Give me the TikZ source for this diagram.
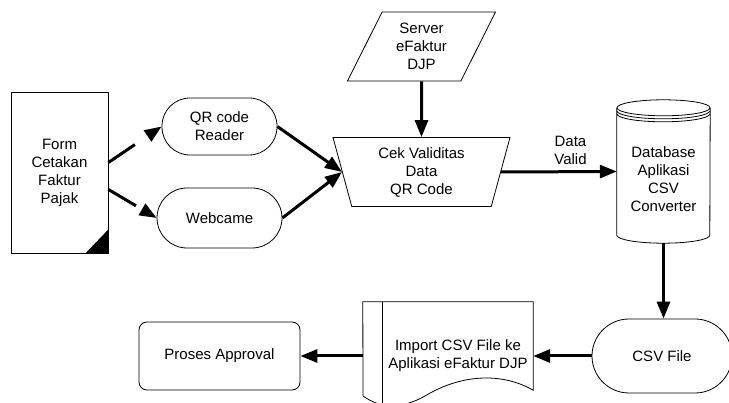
\documentclass[tikz,border=0pt]{standalone}
\usepackage{fontspec}
\setmainfont{Liberation Sans}
\usetikzlibrary{shapes.geometric}
\usetikzlibrary{arrows.meta}
\tikzset{every node/.style={font=\fontsize{15}{18}\selectfont, align=center}}
\tikzset{box/.style={draw, line width=0.8pt}}
\tikzset{flow/.style={line width=3pt, -{Triangle[length=17pt,width=13pt]}}}
\tikzset{dashflow/.style={flow, dash pattern=on 32pt off 20pt}}

\begin{document}
\begin{tikzpicture}[x=1pt,y=1pt]
\useasboundingbox (0,0) rectangle (729,-403);
% create the nodes
\node[box, minimum width=97pt, minimum height=161pt] (form) at (59.5,-172.5) {Form\\Cetakan\\Faktur\\Pajak};
\fill (form.south east) -- ([xshift=-23pt]form.south east) -- ([yshift=24pt]form.south east) -- cycle;
\node[box, rounded corners=28pt, minimum width=115pt, minimum height=57pt] (qr) at (219.5,-126.5) {QR code\\Reader};
\node[box, rounded corners=30pt, minimum width=125pt, minimum height=60pt] (web) at (219.5,-218) {Webcame};
\node[box, trapezium, trapezium angle=71.6, trapezium stretches body, shape border rotate=180,
      minimum width=177pt, minimum height=69pt] (cek) at (421.5,-172) {Cek Validitas\\Data\\QR Code};
\node[box, trapezium, trapezium left angle=57, trapezium right angle=123, trapezium stretches body,
      minimum width=148pt, minimum height=69pt] (srv) at (421.5,-46.5) {Server\\eFaktur\\DJP};
% database cylinder, drawn round an empty node
\node[minimum width=93pt, minimum height=127pt, inner sep=0pt] (db) at (663.5,-171.5) {};
\draw[line width=0.8pt] (db.north west) -- (db.south west)
  arc[start angle=180, end angle=360, x radius=46.5pt, y radius=8pt] -- (db.north east);
\draw[line width=0.8pt] (db.north) ellipse[x radius=46.5pt, y radius=8pt];
\foreach \d in {3,6}
  \draw[line width=0.8pt] ([yshift=-\d pt]db.north west) arc[start angle=180, end angle=360, x radius=46.5pt, y radius=8pt];
\node (dbtext) at ([yshift=-8pt]db.center) {Database\\Aplikasi\\CSV\\Converter};
\node[box, rounded corners=37pt, minimum width=140pt, minimum height=74pt] (csv) at (662,-356) {CSV File};
% document with a strip on the left
\node[minimum width=150pt, minimum height=108pt, inner sep=0pt] (imp) at (458,-356) {Import CSV File ke\\Aplikasi eFaktur DJP};
\draw[line width=0.8pt] ([xshift=-20pt]imp.north west) -- (imp.north east) -- ([yshift=20pt]imp.south east)
  .. controls (505,-374) and (465,-372) .. (425,-396)
  .. controls (400,-410) and (380,-408) .. (363,-396) -- cycle;
\draw[line width=0.8pt] (imp.north west) -- (imp.south west);
\node[box, rounded corners=8pt, minimum width=161pt, minimum height=68pt] (app) at (219.5,-356) {Proses Approval};
% connectors
\draw[dashflow] ([yshift=10pt]form.east) -- (qr.west);
\draw[dashflow] ([yshift=-17pt]form.east) -- (web.west);
\draw[flow] (qr.east) -- (cek.west);
\draw[flow] (web.east) -- (cek.west);
\draw[flow] (srv.south) -- (cek.north);
\draw[flow] (cek.east) -- node[pos=0.6, above, inner sep=6pt] (valid) {Data\\Valid} (db.west);
\draw[flow] ([yshift=-8pt]db.south) -- (csv.north -| db.south);
\draw[flow] (csv.west) -- (imp.east);
\draw[flow] ([xshift=-20pt]imp.west) -- (app.east);
\end{tikzpicture}
\end{document}
